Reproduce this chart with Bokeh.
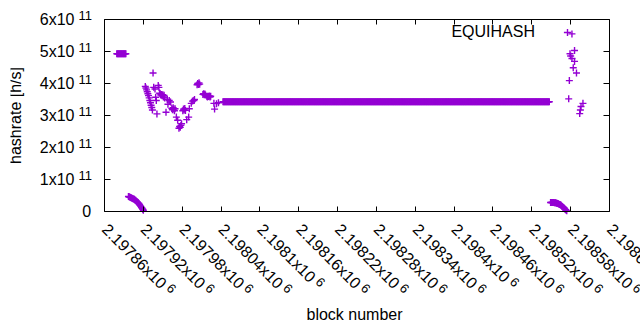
import math
from bokeh.plotting import figure
from bokeh.models import Range1d, FixedTicker, LinearAxis, Label, Legend, LegendItem
from bokeh.embed import file_html
from bokeh.resources import INLINE

# ---------------- data ----------------
series_name = "EQUIHASH"
color = "#9400D3"

# constant run near 4.93e11
seg1_first_block = 2197879
seg1_last_block = 2197893
seg1_value = 4.93e11

# decaying run near the bottom (values in 1e10 h/s), consecutive blocks
seg2_first_block = 2197897
seg2_values_e10 = [4.7, 4.6, 4.5, 4.4, 4.3, 4.2, 4.1, 4.0, 3.9, 3.8, 3.6, 3.5,
                   3.3, 3.1, 2.9, 2.7, 2.5, 2.2, 1.9, 1.6, 1.3, 1.0, 0.7, 0.4]

# scattered estimates (values in 1e11 h/s)
scatter_blocks = [2197923, 2197924, 2197925, 2197926, 2197927, 2197928, 2197929, 2197930,
                  2197931, 2197932, 2197933, 2197934, 2197935, 2197936, 2197938, 2197939,
                  2197940, 2197941, 2197943, 2197944, 2197945, 2197946, 2197947, 2197948,
                  2197949, 2197950, 2197951, 2197952, 2197953, 2197955, 2197957, 2197958,
                  2197960, 2197962, 2197964, 2197965, 2197966, 2197967, 2197968, 2197969,
                  2197971, 2197973, 2197975, 2197976, 2197977, 2197978, 2197979, 2197981,
                  2197982, 2197983, 2197984, 2197985, 2197987, 2197990, 2197991, 2197994,
                  2197996, 2197998, 2197999, 2198003, 2198004, 2198005, 2198006, 2198007,
                  2198012, 2198013, 2198014, 2198015, 2198016, 2198018, 2198019, 2198020,
                  2198021, 2198022, 2198023, 2198024, 2198029, 2198030, 2198033, 2198036]
scatter_values_e11 = [3.91, 3.86, 3.80, 3.74, 3.68, 3.62, 3.55, 3.47,
                      3.40, 3.32, 3.25, 3.17, 4.33, 3.88, 3.83, 3.57,
                      3.47, 3.05, 3.94, 3.88, 3.70, 3.68, 3.64, 3.66,
                      3.62, 3.65, 3.58, 3.63, 3.55, 3.10, 3.50, 3.35,
                      3.47, 3.42, 3.22, 3.18, 3.24, 3.20, 3.15, 3.21,
                      2.95, 2.85, 2.60, 2.66, 2.63, 2.69, 2.74, 3.15,
                      3.20, 3.17, 3.22, 3.16, 2.87, 2.95, 3.21, 3.38,
                      3.45, 3.47, 3.50, 3.96, 4.00, 3.97, 4.02, 3.98,
                      3.66, 3.68, 3.65, 3.67, 3.64, 3.60, 3.58, 3.60,
                      3.59, 3.61, 3.58, 3.60, 3.38, 3.20, 3.37, 3.40]

# long constant run
flat_first_block = 2198043
flat_last_block = 2198547
flat_value = 3.43e11

# second decaying run near the bottom (values in 1e10 h/s)
seg3_first_block = 2198549
seg3_values_e10 = [2.8, 2.8, 2.8, 2.8, 2.8, 2.8, 2.7, 2.7, 2.7, 2.6, 2.6, 2.5, 2.4,
                   2.3, 2.2, 2.1, 2.0, 1.8, 1.6, 1.4, 1.2, 1.0, 0.8, 0.6, 0.4, 0.2]

# scattered estimates at the right (values in 1e11 h/s)
right_blocks = [2198582, 2198586, 2198579, 2198580, 2198582, 2198586, 2198584,
                2198589, 2198578, 2198577, 2198599, 2198596, 2198595, 2198594]
right_values_e11 = [5.55, 5.03, 4.93, 4.86, 4.78, 4.69, 4.49,
                    4.33, 4.09, 3.52, 3.38, 3.28, 3.17, 3.06]

# axes
x_min, x_max = 2197860, 2198640
y_min, y_max = 0.0, 6e11
x_tick_values = [2197860, 2197920, 2197980, 2198040, 2198100, 2198160, 2198220,
                 2198280, 2198340, 2198400, 2198460, 2198520, 2198580, 2198640]
x_tick_mantissas = ["2.19786", "2.19792", "2.19798", "2.19804", "2.1981", "2.19816", "2.19822",
                    "2.19828", "2.19834", "2.1984", "2.19846", "2.19852", "2.19858", "2.19864"]
x_tick_exponent = "6"
y_tick_values = [0, 1e11, 2e11, 3e11, 4e11, 5e11, 6e11]
y_tick_mantissas = ["0", "1x10", "2x10", "3x10", "4x10", "5x10", "6x10"]
y_tick_exponents = ["", "11", "11", "11", "11", "11", "11"]
x_title = "block number"
y_title = "hashrate [h/s]"

# ---------------- assemble points ----------------
xs = []
ys = []
for b in range(seg1_first_block, seg1_last_block + 1):
    xs.append(b); ys.append(seg1_value)
for i, v in enumerate(seg2_values_e10):
    xs.append(seg2_first_block + i); ys.append(v * 1e10)
for b, v in zip(scatter_blocks, scatter_values_e11):
    xs.append(b); ys.append(v * 1e11)
for b in range(flat_first_block, flat_last_block + 1):
    xs.append(b); ys.append(flat_value)
for i, v in enumerate(seg3_values_e10):
    xs.append(seg3_first_block + i); ys.append(v * 1e10)
for b, v in zip(right_blocks, right_values_e11):
    xs.append(b); ys.append(v * 1e11)

# ---------------- layout (pixels) ----------------
W, H = 640, 330
MB = 10                       # border around the drawing frame (left, top, bottom)
MBR = 0                       # right border: let the last tick label run to the edge
box_l, box_r, box_t, box_b = 104, 609, 19, 211   # plot box in page pixels
kx = (box_r - box_l) / (x_max - x_min)
ky = (box_b - box_t) / (y_max - y_min)
xr = Range1d(x_min - (box_l - MB) / kx, x_max + (W - MBR - box_r) / kx)
yr = Range1d(y_min - (H - MB - box_b) / ky, y_max + (box_t - MB) / ky)

FONT = "Liberation Sans"
p = figure(width=W, height=H, output_backend="svg", toolbar_location=None,
           x_range=xr, y_range=yr,
           min_border_left=MB, min_border_right=MBR, min_border_top=MB, min_border_bottom=MB)
p.background_fill_color = "white"
p.border_fill_color = "white"
p.grid.visible = False
p.outline_line_color = None

p.xaxis.ticker = FixedTicker(ticks=x_tick_values)
p.yaxis.ticker = FixedTicker(ticks=y_tick_values)
p.xaxis.fixed_location = y_min
p.yaxis.fixed_location = x_min
top_ax = LinearAxis(ticker=FixedTicker(ticks=x_tick_values), fixed_location=y_max)
right_ax = LinearAxis(ticker=FixedTicker(ticks=y_tick_values), fixed_location=x_max)
p.add_layout(top_ax, "above")
p.add_layout(right_ax, "right")
for ax in p.axis:
    ax.major_label_text_font_size = "0px"
    ax.major_label_text_color = None
    ax.major_label_standoff = 0
    ax.minor_tick_line_color = None
    ax.major_tick_out = 0
    ax.axis_line_color = "black"
    ax.axis_line_width = 1
    ax.major_tick_line_color = "black"
for ax in p.xaxis:
    ax.major_tick_in = 5
    ax.bounds = (x_min, x_max)
for ax in p.yaxis:
    ax.major_tick_in = 6
    ax.bounds = (y_min, y_max)

r = p.scatter(xs, ys, marker="cross", size=7, line_color=color, line_width=1.4)

DELTA = 5.5   # measured baseline correction, along the text's "up" direction

def lab(text, x, y, xo, yo, size="16px", align="left", angle=0.0):
    xo2 = xo - DELTA * math.sin(angle)
    yo2 = yo + DELTA * math.cos(angle)
    p.add_layout(Label(x=x, y=y, x_offset=xo2, y_offset=yo2, text=text,
                       text_font=FONT, text_font_size=size, text_color="black",
                       text_align=align, text_baseline="alphabetic", angle=angle))

# y tick labels
for v, m, e in zip(y_tick_values, y_tick_mantissas, y_tick_exponents):
    if e:
        lab(m, x_min, v, -30, -5, align="right")
        lab(e, x_min, v, -26, -1.5, size="13px", align="left")
    else:
        lab(m, x_min, v, -13.3, -5, align="right")

# x tick labels rotated by -45 degrees
adv = {c: 0.556 for c in "0123456789"}
adv["."] = 0.278
adv["x"] = 0.5
c45 = math.cos(math.pi / 4)
ang = -math.pi / 4
bx, by = -3.6, -19.1
for v, m in zip(x_tick_values, x_tick_mantissas):
    txt = m + "x10"
    L = sum(adv[ch] for ch in txt) * 16 + 3.5
    rr = 3.5
    lab(txt, v, y_min, bx, by, angle=ang)
    lab(x_tick_exponent, v, y_min, bx + L * c45 + rr * c45, by - L * c45 + rr * c45,
        size="13px", angle=ang)

# axis titles
lab(y_title, x_min, (y_min + y_max) / 2, -84, 0, align="center", angle=math.pi / 2)
lab(x_title, (x_min + x_max) / 2, y_min, -2.5, -108.4, align="center")

# key: text then sample point
lab(series_name, x_max, y_max, -74.5, -17.5, align="right")
key_x, key_y = 567, 32        # key sample centre in page pixels
legend = Legend(items=[LegendItem(label="", renderers=[r])],
                location=(key_x - MB - 9, (H - MB) - key_y - 9),
                padding=0, margin=0, spacing=0, glyph_width=18, glyph_height=18,
                label_width=0, label_height=18, label_standoff=0,
                label_text_font_size="8px",
                border_line_color=None, background_fill_color=None, background_fill_alpha=0)
p.add_layout(legend)

open("out.html", "w").write(file_html(p, INLINE))
